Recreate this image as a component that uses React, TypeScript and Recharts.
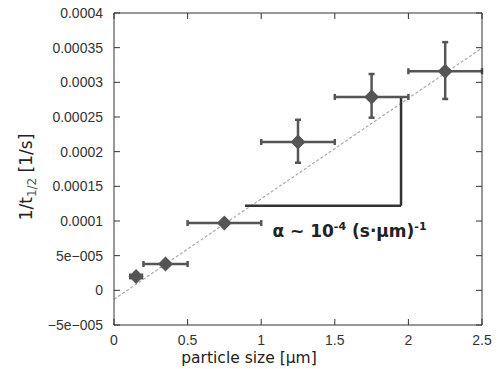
import {
  ComposedChart,
  Scatter,
  XAxis,
  YAxis,
  ErrorBar,
  ReferenceLine,
  ReferenceDot,
  Label,
} from "recharts";

// measured points: particle size [um] vs 1/t_1/2 [1/s]
const sizes = [0.15, 0.35, 0.75, 1.25, 1.75, 2.25];
const rates = [2.0e-5, 3.8e-5, 9.7e-5, 2.14e-4, 2.79e-4, 3.16e-4];
const sizeErr = [
  [0.04, 0.04],
  [0.15, 0.15],
  [0.25, 0.25],
  [0.25, 0.25],
  [0.25, 0.25],
  [0.25, 0.25],
];
const rateErr = [
  [0, 0],
  [0, 0],
  [0, 0],
  [3.0e-5, 3.2e-5],
  [3.0e-5, 3.3e-5],
  [4.0e-5, 4.2e-5],
];

const xTicks = [0, 0.5, 1, 1.5, 2, 2.5];
const yTicks = [-5e-5, 0, 5e-5, 1e-4, 1.5e-4, 2e-4, 2.5e-4, 3e-4, 3.5e-4, 4e-4];
const yTickLabels = [
  "\u22125e\u2212005",
  "0",
  "5e\u2212005",
  "0.0001",
  "0.00015",
  "0.0002",
  "0.00025",
  "0.0003",
  "0.00035",
  "0.0004",
];

// linear fit and slope triangle
const fitSlope = 1.45e-4;
const fitIntercept = -1.3e-5;
const triX = [0.89, 1.95];
const triY = [1.22e-4, 2.78e-4];
const notePos = [1.6, 8.6e-5];

const points = sizes.map((x, i) => ({
  x,
  y: rates[i],
  xErr: sizeErr[i],
  yErr: rateErr[i],
}));

const W = 504;
const H = 369;
const M = { top: 13, right: 22, bottom: 0, left: 0 };
const Y_AXIS_W = 114;
const X_AXIS_H = 44;
const PLOT_TOP = M.top;
const PLOT_RIGHT = W - M.right;
const X_MARGIN = 10;
const Y_MARGIN = 11;
const TICK = 6;

const INK = "#333";
const MARK = "#555";
const tickFont = { fontFamily: "Liberation Sans, Arial, sans-serif", fontSize: 14, fill: "#333" };

function Diamond(props: any) {
  const { cx, cy } = props;
  const r = 7.5;
  return (
    <polygon
      points={`${cx},${cy - r} ${cx + r},${cy} ${cx},${cy + r} ${cx - r},${cy}`}
      fill={MARK}
    />
  );
}

// label plus inward tick marks on bottom and top frame
function XTick(props: any) {
  const { x, y, payload } = props;
  const base = y - X_MARGIN;
  return (
    <g>
      <line x1={x} y1={base} x2={x} y2={base - TICK} stroke={INK} />
      <line x1={x} y1={PLOT_TOP} x2={x} y2={PLOT_TOP + TICK} stroke={INK} />
      <text x={x} y={y} dy="0.71em" textAnchor="middle" {...tickFont}>
        {payload.value}
      </text>
    </g>
  );
}

// label plus inward tick marks on left and right frame
function YTick(props: any) {
  const { x, y, payload } = props;
  const i = yTicks.indexOf(payload.value);
  const base = x + Y_MARGIN;
  return (
    <g>
      <line x1={base} y1={y} x2={base + TICK} y2={y} stroke={INK} />
      <line x1={PLOT_RIGHT} y1={y} x2={PLOT_RIGHT - TICK} y2={y} stroke={INK} />
      <text x={x} y={y} dy="0.355em" textAnchor="end" {...tickFont}>
        {yTickLabels[i]}
      </text>
    </g>
  );
}

function YTitle(props: any) {
  const { viewBox } = props;
  const cx = viewBox.x + 26;
  const cy = viewBox.y + viewBox.height / 2 + 8;
  return (
    <text
      x={cx}
      y={cy}
      transform={`rotate(-90 ${cx} ${cy})`}
      textAnchor="middle"
      dy="0.35em"
      fontFamily="DejaVu Sans, sans-serif"
      fontSize={17}
      fill="#222"
    >
      1/t
      <tspan fontSize={12} dy={4} fill="#555">1/2</tspan>
      <tspan dy={-4}>{"  [1/s]"}</tspan>
    </text>
  );
}

function Note(props: any) {
  const { viewBox } = props;
  const x = viewBox.x + viewBox.width / 2;
  const y = viewBox.y + viewBox.height / 2;
  return (
    <text
      x={x}
      y={y}
      dy="0.35em"
      textAnchor="middle"
      fontFamily="DejaVu Sans, sans-serif"
      fontWeight="bold"
      fontSize={17}
      fill="#222"
    >
      {"\u03b1 ~ 10"}
      <tspan fontSize={11} dy={-7}>-4</tspan>
      <tspan dy={7}>{" (s\u00b7\u00b5m)"}</tspan>
      <tspan fontSize={11} dy={-7}>-1</tspan>
    </text>
  );
}

export default function App() {
  const fitSeg = [
    { x: xTicks[0], y: fitIntercept + fitSlope * xTicks[0] },
    { x: xTicks[xTicks.length - 1], y: fitIntercept + fitSlope * xTicks[xTicks.length - 1] },
  ];
  return (
    <div style={{ position: "absolute", left: 0, top: 0, background: "#fff" }}>
      <ComposedChart width={W} height={H} margin={M}>
        <XAxis
          dataKey="x"
          type="number"
          domain={[0, 2.5]}
          ticks={xTicks}
          interval={0}
          height={X_AXIS_H}
          tickLine={false}
          tickSize={0}
          tickMargin={X_MARGIN}
          tick={<XTick />}
          axisLine={{ stroke: INK }}
        >
          <Label
            value="particle size [μm]"
            position="insideBottom"
            offset={6}
            dx={-49}
            style={{ fontFamily: "DejaVu Sans, sans-serif", fontSize: 15.5, fill: "#222" }}
          />
        </XAxis>
        <XAxis
          xAxisId="t"
          type="number"
          domain={[0, 2.5]}
          orientation="top"
          mirror
          height={1}
          tick={false}
          tickLine={false}
          axisLine={{ stroke: INK }}
        />
        <YAxis
          dataKey="y"
          type="number"
          domain={[-5e-5, 4e-4]}
          ticks={yTicks}
          interval={0}
          width={Y_AXIS_W}
          tickLine={false}
          tickSize={0}
          tickMargin={Y_MARGIN}
          tick={<YTick />}
          axisLine={{ stroke: INK }}
        >
          <Label content={<YTitle />} />
        </YAxis>
        <YAxis
          yAxisId="r"
          type="number"
          domain={[-5e-5, 4e-4]}
          orientation="right"
          mirror
          width={1}
          tick={false}
          tickLine={false}
          axisLine={{ stroke: INK }}
        />
        <ReferenceLine
          segment={fitSeg}
          stroke="#aaa"
          strokeWidth={1.2}
          strokeDasharray="3 2"
          ifOverflow="hidden"
        />
        <ReferenceLine
          segment={[
            { x: triX[0], y: triY[0] },
            { x: triX[1], y: triY[0] },
          ]}
          stroke={INK}
          strokeWidth={2.5}
        />
        <ReferenceLine
          segment={[
            { x: triX[1], y: triY[0] },
            { x: triX[1], y: triY[1] },
          ]}
          stroke={INK}
          strokeWidth={2.5}
        />
        <Scatter data={points} shape={<Diamond />} isAnimationActive={false}>
          <ErrorBar dataKey="xErr" direction="x" stroke={MARK} strokeWidth={2.5} width={3} />
          <ErrorBar dataKey="yErr" direction="y" stroke={MARK} strokeWidth={2.5} width={3} />
        </Scatter>
        <ReferenceDot
          x={notePos[0]}
          y={notePos[1]}
          r={0}
          fill="none"
          stroke="none"
          label={<Note />}
        />
      </ComposedChart>
    </div>
  );
}
